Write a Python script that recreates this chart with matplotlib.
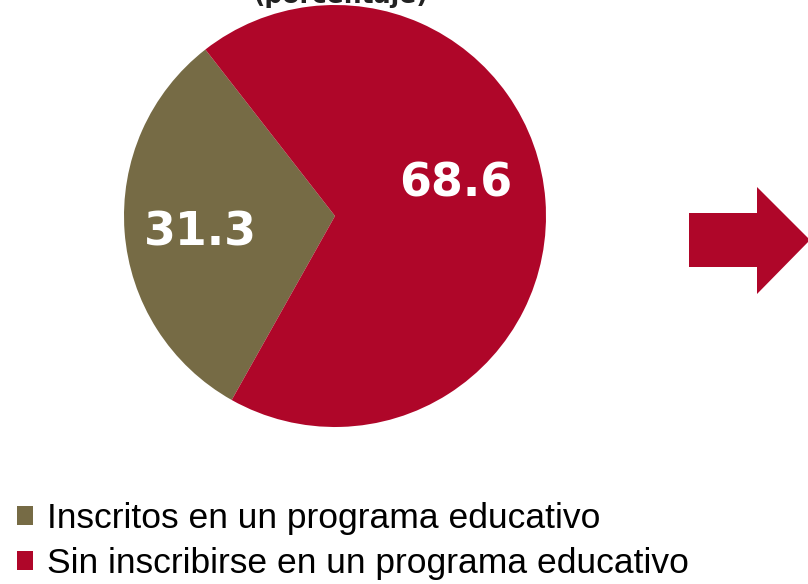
import matplotlib.pyplot as plt
from matplotlib.patches import Patch, Polygon

# Datos
categorias = ['Inscritos en un programa educativo',
              'Sin inscribirse en un programa educativo']
valores = [31.3, 68.6]
colores = ['#766B45', '#AF0629']

W, H = 808, 584
fig = plt.figure(figsize=(W / 100, H / 100), dpi=100)
ax = fig.add_axes([0, 0, 1, 1])

# Pastel (centro ~ (335, 216) px, radio ~211 px)
wedges, _ = ax.pie(valores, colors=colores, startangle=127.9,
                   counterclock=True, radius=1.0)
cx, cy, r = 335, 216, 211
ax.set_xlim(-cx / r, (W - cx) / r)
ax.set_ylim((cy - H) / r, cy / r)
ax.set_aspect('equal')
ax.axis('off')

# Etiquetas de valores
ax.text(-0.64, -0.08, f'{valores[0]:.1f}', color='white', fontsize=33,
        fontweight='bold', ha='center', va='center')
ax.text(0.57, 0.15, f'{valores[1]:.1f}', color='white', fontsize=33,
        fontweight='bold', ha='center', va='center')

# Titulo cortado arriba (como en el original)
fig.text(341 / W, 1 - 3 / H, '(porcentaje)', ha='center', va='baseline',
         fontsize=18, fontweight='bold', color='#222222')

# Flecha decorativa a la derecha
pts = [(689, 213), (757, 213), (757, 187), (810, 240), (757, 294),
       (757, 267), (689, 267)]
fig.patches.append(Polygon([(x / W, 1 - y / H) for x, y in pts],
                           closed=True, transform=fig.transFigure,
                           color=colores[1], linewidth=0))

# Leyenda
handles = [Patch(facecolor=c, edgecolor='none') for c in colores]
fig.legend(handles, categorias, loc='upper left',
           bbox_to_anchor=(17 / W, 1 - 502 / H), frameon=False,
           prop={'family': 'Liberation Sans', 'size': 25.5},
           handlelength=0.46, handleheight=0.46, handletextpad=0.4,
           labelspacing=0.34, borderpad=0, borderaxespad=0)

fig.savefig('out.png', dpi=100)
